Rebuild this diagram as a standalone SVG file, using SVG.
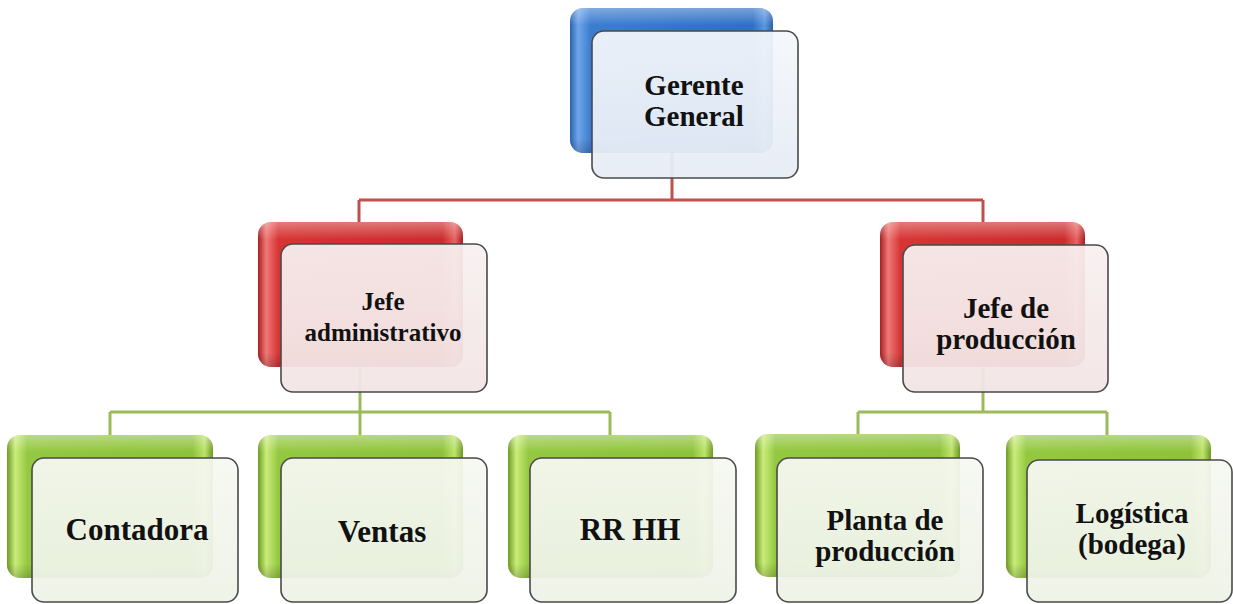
<svg xmlns="http://www.w3.org/2000/svg" width="1233" height="604" viewBox="0 0 1233 604">
  <defs>
    <linearGradient id="gBlue" x1="0" y1="0" x2="1" y2="0">
      <stop offset="0" stop-color="#2A63B0"/>
      <stop offset="0.04" stop-color="#6FA6EA"/>
      <stop offset="0.1" stop-color="#3C7DD0"/>
      <stop offset="0.9" stop-color="#2F6FC4"/>
      <stop offset="0.96" stop-color="#5D97DF"/>
      <stop offset="1" stop-color="#2A5FA8"/>
    </linearGradient>
    <linearGradient id="gRed" x1="0" y1="0" x2="1" y2="0">
      <stop offset="0" stop-color="#A81E20"/>
      <stop offset="0.04" stop-color="#EE7A78"/>
      <stop offset="0.1" stop-color="#D73434"/>
      <stop offset="0.9" stop-color="#CC2C2C"/>
      <stop offset="0.96" stop-color="#E86462"/>
      <stop offset="1" stop-color="#A41E20"/>
    </linearGradient>
    <linearGradient id="gGreen" x1="0" y1="0" x2="1" y2="0">
      <stop offset="0" stop-color="#6E9A22"/>
      <stop offset="0.04" stop-color="#C9EC7A"/>
      <stop offset="0.1" stop-color="#94C840"/>
      <stop offset="0.9" stop-color="#8EC23A"/>
      <stop offset="0.96" stop-color="#BDE46A"/>
      <stop offset="1" stop-color="#6C9820"/>
    </linearGradient>
    <linearGradient id="gShine" x1="0" y1="0" x2="0" y2="1">
      <stop offset="0" stop-color="#ffffff" stop-opacity="0.35"/>
      <stop offset="0.12" stop-color="#ffffff" stop-opacity="0"/>
      <stop offset="0.9" stop-color="#000000" stop-opacity="0"/>
      <stop offset="1" stop-color="#000000" stop-opacity="0.18"/>
    </linearGradient>
    <linearGradient id="fBlue" x1="0" y1="0" x2="0" y2="1">
      <stop offset="0" stop-color="#F4F7FB"/>
      <stop offset="1" stop-color="#E6ECF5"/>
    </linearGradient>
    <linearGradient id="fRed" x1="0" y1="0" x2="0" y2="1">
      <stop offset="0" stop-color="#F8F0F0"/>
      <stop offset="1" stop-color="#F2E4E4"/>
    </linearGradient>
    <linearGradient id="fGreen" x1="0" y1="0" x2="0" y2="1">
      <stop offset="0" stop-color="#F6F8F2"/>
      <stop offset="1" stop-color="#EEF2E6"/>
    </linearGradient>
  </defs>
  <style>
    .back { stroke: none; }
    .shine { fill: url(#gShine); stroke: none; }
    .front { stroke: #4A4A4A; stroke-width: 1.6; fill-opacity: 0.94; }
    .lbl { font-family: "Liberation Serif", "Times New Roman", serif; font-weight: bold; fill: #111; text-anchor: middle; font-size: 31px; }
    .two { font-size: 29px; }
    .small { font-size: 25px; }
    .red { stroke: #C0504D; stroke-width: 3; fill: none; }
    .green { stroke: #9BBB59; stroke-width: 3; fill: none; }
  </style>
  <rect width="1233" height="604" fill="#ffffff"/>

  <g id="connectors">
    <path class="red" d="M672 150 V200 M359 200 H983 M359 200 V224 M983 200 V224"/>
    <path class="green" d="M360 365 V412 M110 412 H610 M110 412 V437 M360 412 V437 M610 412 V437"/>
    <path class="green" d="M983 365 V412 M858 412 H1107 M858 412 V437 M1107 412 V437"/>
  </g>

  <g id="gerente-general">
    <rect class="back" x="570" y="8" width="203" height="145" rx="13" fill="url(#gBlue)"/>
    <rect class="shine" x="570" y="8" width="203" height="145" rx="13"/>
    <rect class="front" x="592" y="31" width="206" height="147" rx="12" fill="url(#fBlue)"/>
    <text class="lbl two" x="694" y="95">Gerente</text>
    <text class="lbl two" x="694" y="126">General</text>
  </g>

  <g id="jefe-administrativo">
    <rect class="back" x="258" y="222" width="205" height="145" rx="13" fill="url(#gRed)"/>
    <rect class="shine" x="258" y="222" width="205" height="145" rx="13"/>
    <rect class="front" x="281" y="244" width="206" height="148" rx="12" fill="url(#fRed)"/>
    <text class="lbl small" x="383" y="310">Jefe</text>
    <text class="lbl small" x="383" y="341">administrativo</text>
  </g>

  <g id="jefe-produccion">
    <rect class="back" x="880" y="222" width="205" height="145" rx="13" fill="url(#gRed)"/>
    <rect class="shine" x="880" y="222" width="205" height="145" rx="13"/>
    <rect class="front" x="903" y="245" width="205" height="147" rx="12" fill="url(#fRed)"/>
    <text class="lbl two" x="1006" y="318">Jefe de</text>
    <text class="lbl two" x="1006" y="349">producción</text>
  </g>

  <g id="contadora">
    <rect class="back" x="7" y="435" width="206" height="143" rx="13" fill="url(#gGreen)"/>
    <rect class="shine" x="7" y="435" width="206" height="143" rx="13"/>
    <rect class="front" x="32" y="458" width="206" height="144" rx="12" fill="url(#fGreen)"/>
    <text class="lbl" x="137" y="540">Contadora</text>
  </g>

  <g id="ventas">
    <rect class="back" x="258" y="435" width="205" height="143" rx="13" fill="url(#gGreen)"/>
    <rect class="shine" x="258" y="435" width="205" height="143" rx="13"/>
    <rect class="front" x="281" y="458" width="206" height="144" rx="12" fill="url(#fGreen)"/>
    <text class="lbl" x="382" y="542">Ventas</text>
  </g>

  <g id="rr-hh">
    <rect class="back" x="508" y="435" width="205" height="143" rx="13" fill="url(#gGreen)"/>
    <rect class="shine" x="508" y="435" width="205" height="143" rx="13"/>
    <rect class="front" x="530" y="458" width="206" height="144" rx="12" fill="url(#fGreen)"/>
    <text class="lbl" x="630" y="540">RR HH</text>
  </g>

  <g id="planta-produccion">
    <rect class="back" x="755" y="434" width="205" height="143" rx="13" fill="url(#gGreen)"/>
    <rect class="shine" x="755" y="434" width="205" height="143" rx="13"/>
    <rect class="front" x="777" y="458" width="206" height="144" rx="12" fill="url(#fGreen)"/>
    <text class="lbl two" x="885" y="530">Planta de</text>
    <text class="lbl two" x="885" y="561">producción</text>
  </g>

  <g id="logistica">
    <rect class="back" x="1006" y="435" width="205" height="143" rx="13" fill="url(#gGreen)"/>
    <rect class="shine" x="1006" y="435" width="205" height="143" rx="13"/>
    <rect class="front" x="1027" y="460" width="205" height="142" rx="12" fill="url(#fGreen)"/>
    <text class="lbl two" x="1132" y="523">Logística</text>
    <text class="lbl two" x="1132" y="554">(bodega)</text>
  </g>
</svg>
